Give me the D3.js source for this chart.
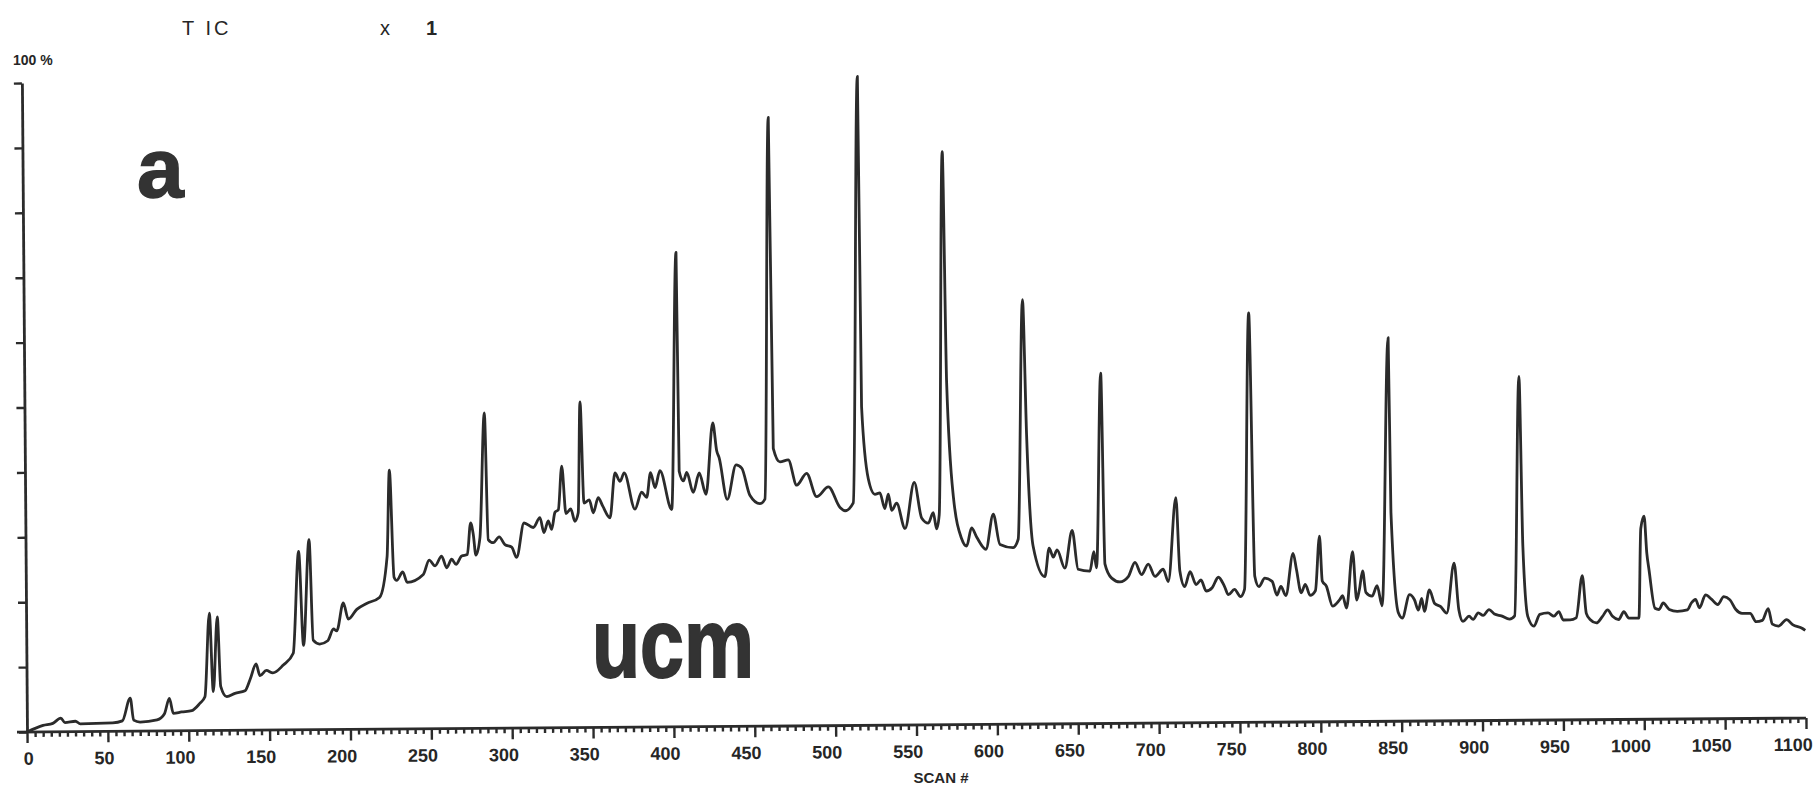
<!DOCTYPE html>
<html>
<head>
<meta charset="utf-8">
<script src="https://cdn.jsdelivr.net/npm/d3@7"></script>
<style>
  body { margin: 0; background: #fff; }
  text { font-family: "Liberation Sans", Arial, sans-serif; fill: #262626; }
</style>
</head>
<body>
<div id="my_dataviz"></div>
<script>
// scan numbers and TIC intensity (% of largest peak)
const scans = [0, 10, 16, 21, 23.5, 30, 33, 53, 59, 64, 66, 70, 80.5, 85, 88.2, 90.6, 95.7, 102, 107, 110.2,
  113.3, 115.4, 118.2, 120, 123.7, 128.8, 135, 138.3, 142, 144.3, 148.3, 152.3, 158.8, 165, 168.8, 171.4,
  175.3, 177.4, 181.4, 186.4, 190, 192, 196.2, 199.2, 204.5, 210.6, 218.6, 223.5, 225.3, 227.7, 229.3,
  233.1, 235.8, 245.8, 249.5, 253.1, 257.2, 260.3, 263.4, 266.1, 269.6, 273.1, 275.3, 276.9, 278.4, 281,
  284.3, 286.1, 289.2, 292.9, 296.4, 300.6, 303.6, 308.3, 314, 318.2, 320.6, 323.3, 325.4, 327.5, 329.6,
  331.9, 334.3, 337.3, 339.8, 341.9, 343.5, 345.5, 348.8, 351.2, 354.3, 357.1, 361.5, 364.8, 367.9, 370.5,
  377, 381.2, 384.3, 386.8, 389.5, 392.6, 399.7, 403.6, 404.5, 407.1, 409.2, 413.1, 416.9, 421, 425.5,
  427.8, 429.3, 434.1, 439.7, 443.2, 448.1, 454.3, 457.4, 461.3, 462.8, 466.9, 472, 477.1, 483.3, 489.4,
  496.7, 503.8, 506.9, 512, 516.6, 517.6, 521.4, 525.4, 528.5, 531.5, 533.7, 535.7, 538.8, 543.9, 549.8,
  554.2, 558.3, 561.4, 563.4, 565.1, 568.7, 570.3, 573.9, 578.9, 581.9, 585, 588.1, 593.8, 598.5, 602.5,
  610.6, 613.8, 617.6, 619.5, 623, 630.1, 632.9, 635.4, 637.8, 642.5, 647.2, 650.7, 658, 660.5, 662.1,
  665.6, 667.3, 671.4, 676.5, 681.7, 685.9, 689.9, 694.1, 698.2, 703.3, 706.4, 711.5, 713.6, 716.5, 719.9,
  723.6, 726.6, 729.8, 733.5, 737.4, 741.1, 743.5, 747.3, 751, 753.5, 757.4, 759.9, 762.4, 766.1, 770.6,
  773.5, 776, 779, 783.7, 785.7, 788.5, 791.1, 794, 797.3, 800.1, 801.6, 804.1, 807.9, 812.3, 814.1,
  816.5, 820.5, 822.8, 824.5, 826.6, 828.5, 832.3, 835.5, 838.5, 843.5, 844.4, 848.5, 850.9, 855.5, 858.5,
  860.9, 863, 864.6, 867.8, 871, 874.7, 878.4, 883.2, 885.9, 888.4, 892.2, 894.7, 897.9, 900.9, 904.6,
  907.9, 912.2, 917.2, 920.4, 924.2, 925.8, 928.5, 932.2, 936, 941, 944.7, 947.7, 950.4, 954.7, 958.4,
  962.4, 964.7, 967.2, 970.9, 974.7, 977.9, 980.9, 984.7, 987.9, 991, 997.2, 998.8, 1000.9, 1002.4, 1003.7,
  1007.2, 1009.7, 1012.3, 1016, 1021, 1027.2, 1029.8, 1032.3, 1034.7, 1038.5, 1042.3, 1046, 1049.8, 1053.6,
  1057.2, 1061, 1066, 1069.7, 1073.5, 1077.2, 1079.7, 1083.4, 1088.5, 1092.2, 1098.3, 1100];

const tic = [0, 1.0, 1.3, 2.1, 1.4, 1.6, 1.2, 1.3, 1.6, 5.1, 1.7, 1.4, 1.7, 2.6, 5.0, 2.7, 2.9, 3.1, 4.2, 5.2,
  18.1, 6.0, 17.5, 6.8, 5.2, 5.7, 6.1, 7.9, 10.2, 8.4, 9.2, 8.8, 10.0, 11.8, 27.5, 13.0,
  29.3, 13.8, 13.2, 13.7, 15.5, 15.2, 19.5, 17.0, 18.5, 19.4, 20.3, 26.6, 39.9, 23.4, 22.9,
  24.2, 22.6, 23.8, 26.0, 25.1, 26.6, 24.8, 26.1, 25.3, 26.6, 26.8, 31.7, 29.9, 26.7, 29.4,
  48.6, 29.1, 28.6, 29.5, 28.3, 27.9, 26.3, 31.6, 30.9, 32.4, 30.1, 31.9, 30.6, 33.2, 33.6,
  40.3, 33.0, 33.7, 31.8, 33.1, 50.2, 34.6, 35.1, 33.1, 35.4, 34.1, 32.3, 39.2, 37.9, 39.2,
  33.6, 36.2, 35.4, 39.2, 36.9, 39.5, 33.5, 73.1, 39.4, 37.9, 39.2, 36.1, 39.1, 35.8, 46.8,
  42.5, 41.4, 35.0, 40.3, 39.8, 35.6, 34.3, 35.0, 93.8, 42.8, 40.7, 41.0, 37.1, 38.9, 35.3,
  36.8, 33.6, 33.1, 34.3, 100, 49.1, 38.0, 35.6, 35.8, 33.4, 35.6, 33.1, 34.2, 30.3, 37.4,
  31.9, 31.1, 32.7, 30.2, 32.4, 88.3, 52.8, 35.2, 28.6, 27.5, 30.3, 28.9, 27.0, 32.4, 27.7,
  27.2, 28.5, 65.4, 44.5, 27.4, 22.7, 27.1, 25.7, 26.8, 24.0, 29.8, 23.8, 23.5, 26.5, 24.0,
  54.0, 24.6, 22.4, 21.8, 22.6, 24.8, 22.9, 24.5, 22.6, 23.7, 21.8, 34.7, 23.4, 21.0, 23.3,
  21.3, 22.0, 20.3, 20.8, 22.4, 21.0, 19.7, 20.5, 19.4, 20.5, 63.1, 22.5, 20.9, 22.2, 21.7,
  19.6, 20.9, 19.5, 26.0, 23.5, 19.9, 21.2, 19.5, 20.2, 28.6, 21.7, 20.9, 17.8, 18.8, 19.4,
  17.5, 26.2, 18.7, 20.3, 23.2, 19.9, 19.3, 20.9, 17.8, 59.1, 32.2, 16.7, 15.9, 19.5, 18.7,
  17.1, 18.9, 16.9, 20.2, 18.1, 17.6, 16.6, 24.3, 17.1, 15.3, 16.1, 15.6, 16.6, 16.2, 17.1,
  16.4, 16.1, 15.6, 16.1, 53.0, 26.8, 16.0, 14.5, 16.3, 16.5, 16.0, 16.7, 15.4, 15.4, 15.7,
  22.2, 16.4, 15.4, 14.9, 15.9, 16.9, 15.9, 15.4, 16.6, 15.6, 15.6, 29.4, 31.3, 25.6, 23.0,
  17.1, 16.9, 17.9, 16.9, 16.6, 16.8, 17.9, 18.4, 17.1, 19.1, 18.4, 17.6, 18.8, 18.3,
  16.8, 16.2, 16.2, 14.9, 15.1, 16.9, 14.5, 14.2, 15.2, 14.4, 13.8, 13.5];

const xMajor = d3.range(0, 1101, 50);
const xMinor = d3.range(0, 1101, 5).filter(d => d % 50 !== 0);
const yTicks = d3.range(0, 101, 10);

const data = scans.map((s, i) => ({scan: s, tic: tic[i]}));

const W = 1814, H = 792;
// plot frame (the scanned plot is tilted slightly)
const margin = {top: 83, right: 8, bottom: 60, left: 27};
const tilt = -0.45;
const ink = "#2b2b2b";

const svg = d3.select("#my_dataviz")
  .append("svg")
  .attr("width", W)
  .attr("height", H);

svg.append("rect").attr("width", W).attr("height", H).attr("fill", "#fff");

const x = d3.scaleLinear().domain([0, 1100]).range([margin.left, W - margin.right]);
const y = d3.scaleLinear().domain([0, 100]).range([H - margin.bottom, margin.top]);

const g = svg.append("g")
  .attr("transform", `rotate(${tilt}, ${x(0)}, ${y(0)})`);

// minor ticks every 5 scans
g.append("g")
  .attr("transform", `translate(0, ${y(0)})`)
  .call(d3.axisBottom(x).tickValues(xMinor).tickSize(5).tickFormat(""))
  .call(a => a.select(".domain").remove());

// major ticks + labels
const xAxis = g.append("g")
  .attr("transform", `translate(0, ${y(0)})`)
  .call(d3.axisBottom(x).tickValues(xMajor).tickSize(11).tickSizeOuter(0)
    .tickPadding(9).tickFormat(d3.format("d")));
xAxis.select(".domain").remove();
xAxis.selectAll("text")
  .attr("text-anchor", "end")
  .attr("dx", 6)
  .style("font-size", "18px")
  .style("font-weight", "bold")
  .style("fill", "#262626");

g.selectAll(".tick line").attr("stroke", ink).attr("stroke-width", 2.4);

// axis lines
g.append("line")
  .attr("x1", x(0) - 10).attr("x2", x(1100))
  .attr("y1", y(0)).attr("y2", y(0))
  .attr("stroke", ink).attr("stroke-width", 2.8);

const yAxis = g.append("g")
  .attr("transform", `translate(${x(0)}, 0)`)
  .call(d3.axisLeft(y).tickValues(yTicks).tickSize(8).tickSizeOuter(0).tickFormat(""));
yAxis.select(".domain").attr("stroke", ink).attr("stroke-width", 2.8);
yAxis.selectAll("line").attr("stroke", ink).attr("stroke-width", 2.4);

// TIC trace
const line = d3.line()
  .x(d => x(d.scan))
  .y(d => y(d.tic))
  .curve(d3.curveMonotoneX);

g.append("path")
  .datum(data)
  .attr("fill", "none")
  .attr("stroke", ink)
  .attr("stroke-width", 2.8)
  .attr("stroke-linejoin", "round")
  .attr("d", line);

// header and labels
svg.append("text").attr("x", 182).attr("y", 35)
  .style("font-size", "20px").style("letter-spacing", "3px").text("T IC");
svg.append("text").attr("x", 380).attr("y", 35)
  .style("font-size", "20px").text("x");
svg.append("text").attr("x", 426).attr("y", 35)
  .style("font-size", "20px").style("font-weight", "bold").text("1");
svg.append("text").attr("x", 13).attr("y", 65)
  .style("font-size", "14px").style("font-weight", "bold").text("100 %");

svg.append("text").attr("x", 941).attr("y", 783)
  .attr("text-anchor", "middle")
  .style("font-size", "15px").style("font-weight", "bold").text("SCAN #");

svg.append("text").attr("x", 137).attr("y", 197)
  .style("font-size", "84px").style("font-weight", "bold").style("fill", "#333")
  .style("stroke", "#333").style("stroke-width", 1.5).text("a");
svg.append("text").attr("x", 592).attr("y", 677)
  .attr("textLength", 162).attr("lengthAdjust", "spacingAndGlyphs")
  .style("font-size", "98px").style("font-weight", "bold").style("fill", "#333")
  .style("stroke", "#333").style("stroke-width", 2).text("ucm");
</script>
</body>
</html>
